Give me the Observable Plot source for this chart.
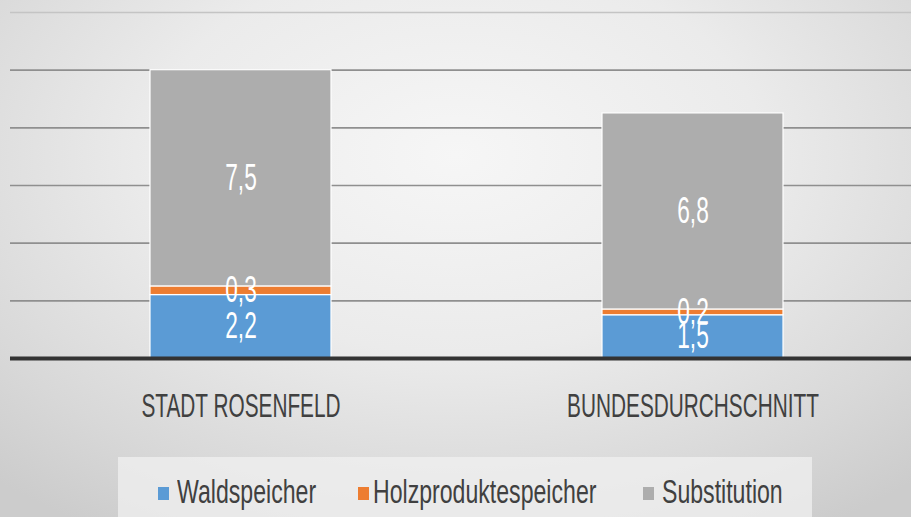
<!DOCTYPE html>
<html>
<head>
<meta charset="utf-8">
<script src="https://cdn.jsdelivr.net/npm/d3@7"></script>
<script src="https://cdn.jsdelivr.net/npm/@observablehq/plot@0.6"></script>
<style>
html, body { margin: 0; padding: 0; }
body {
  width: 911px; height: 517px; overflow: hidden; position: relative;
  background: radial-gradient(ellipse 75% 85% at 50% 30%, #f6f6f6 0%, #ebebeb 45%, #d8d8d8 80%, #cccccc 100%);
  font-family: "Liberation Sans", sans-serif;
}
#chart { position: absolute; left: 0; top: 0; }
#legend {
  position: absolute; left: 118px; top: 457px; width: 694px; height: 60px;
  background: rgba(240,240,240,0.75);
}
.sw { position: absolute; top: 30px; width: 11px; height: 13px; }
.lab {
  position: absolute; top: 15px; white-space: nowrap; font-size: 33px; color: #404040;
  transform: scaleX(0.70); transform-origin: 0 0; line-height: 40px;
}
</style>
</head>
<body>
<div id="chart"></div>
<div id="legend"></div>
<script>
const categories = ["STADT ROSENFELD", "BUNDESDURCHSCHNITT"];
const seriesNames = ["Waldspeicher", "Holzproduktespeicher", "Substitution"];
const waldspeicher = [2.2, 1.5];
const holzproduktespeicher = [0.3, 0.2];
const substitution = [7.5, 6.8];
const gridTicks = [2, 4, 6, 8, 10];
const topTick = [12];
const colors = ["#5b9bd5", "#ed7d31", "#adadad"];

const seriesValues = [waldspeicher, holzproduktespeicher, substitution];
const data = [];
seriesNames.forEach((s, si) => {
  categories.forEach((c, ci) => {
    data.push({category: c, series: s, value: seriesValues[si][ci]});
  });
});
const fmt = v => String(v).replace(".", ",");

const plot = Plot.plot({
  width: 911,
  height: 450,
  marginTop: 12,
  marginBottom: 92,
  marginLeft: 10,
  marginRight: 0,
  style: {background: "transparent", overflow: "visible", fontFamily: "Liberation Sans, sans-serif"},
  x: {domain: categories, range: [149, 783], paddingInner: 0.6, paddingOuter: 0, label: null},
  y: {domain: [0, 12], axis: null},
  color: {domain: seriesNames, range: colors},
  marks: [
    Plot.ruleY(gridTicks, {stroke: "#8f8f8f", strokeWidth: 1.6}),
    Plot.ruleY(topTick, {stroke: "#c4c4c4", strokeWidth: 1.6}),
    Plot.barY(data, Plot.stackY({x: "category", y: "value", fill: "series", order: seriesNames, stroke: "white", strokeWidth: 1.2})),
    Plot.text(data, Plot.stackY({x: "category", y: "value", z: "series", order: seriesNames, text: d => fmt(d.value), fill: "white", fontSize: 36, fontFamily: "Liberation Sans, sans-serif"})),
    Plot.ruleY([0], {stroke: "#333333", strokeWidth: 4}),
    Plot.axisX({tickSize: 0, tickPadding: 35, fontSize: 33, fontFamily: "Liberation Sans, sans-serif", color: "#404040", label: null})
  ]
});
document.getElementById("chart").appendChild(plot);

// condense text to match the narrow look of the original
plot.querySelectorAll("text").forEach(t => {
  const w = t.getComputedTextLength();
  if (w > 0) {
    t.setAttribute("textLength", (w * 0.63).toFixed(1));
    t.setAttribute("lengthAdjust", "spacingAndGlyphs");
  }
});

// legend
const legend = document.getElementById("legend");
const legendPos = [[40, 59], [240, 255], [525, 544]];
seriesNames.forEach((s, i) => {
  const sw = document.createElement("div");
  sw.className = "sw";
  sw.style.left = legendPos[i][0] + "px";
  sw.style.background = colors[i];
  legend.appendChild(sw);
  const lab = document.createElement("div");
  lab.className = "lab";
  lab.style.left = legendPos[i][1] + "px";
  lab.textContent = s;
  legend.appendChild(lab);
});
</script>
</body>
</html>
